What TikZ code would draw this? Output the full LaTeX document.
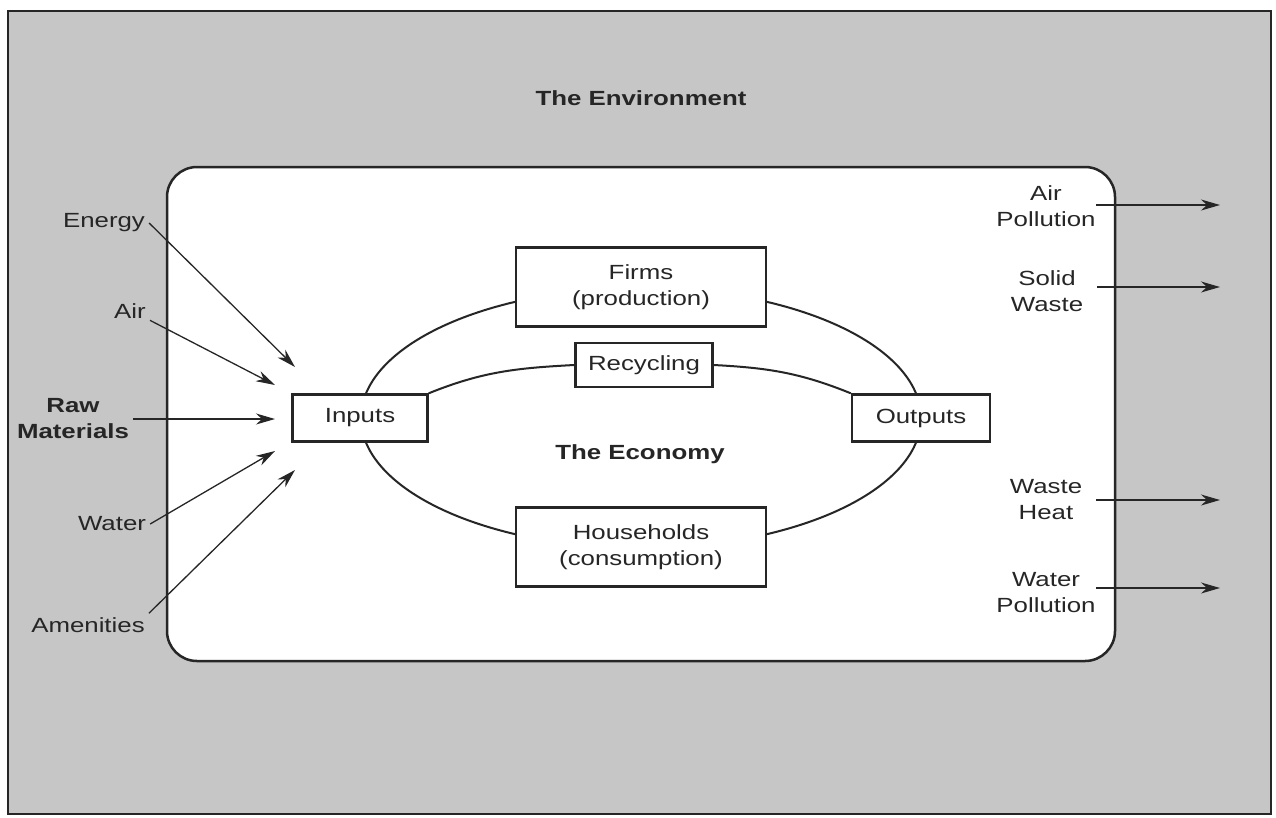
\documentclass[tikz,border=0pt]{standalone}
\usepackage{fontspec}
\setmainfont{Liberation Sans}[FakeStretch=1.26]
\usetikzlibrary{arrows.meta}

\definecolor{envgray}{RGB}{198,198,198}
\definecolor{ink}{RGB}{38,38,38}

\begin{document}
\begin{tikzpicture}[x=1pt, y=-1pt,
    every node/.style={font=\fontsize{20.5}{26}\selectfont, text=ink},
    heading/.style={font=\bfseries\fontsize{20.5}{26}\selectfont},
    lbl/.style={align=center, inner sep=4pt},
    outlbl/.style={align=center, inner sep=0pt, text width=100pt},
    box/.style={draw=ink, line width=2.4pt, fill=white, align=center, inner sep=0pt},
    flow/.style={draw=ink, line width=1.3pt, -{Stealth[length=19pt, width=11pt, inset=6pt]}}]
    \useasboundingbox (0,0) rectangle (1276,817);

    % Environment and economy.
    \draw [draw=ink, line width=2.5pt, fill=envgray] (8,11) rectangle (1271,814);
    \draw [draw=ink, line width=2.5pt, fill=white, rounded corners=30pt] (167,167) rectangle (1115,661);
    \node [heading] (env) at (641,98) {The Environment};

    % Circular flow.
    \draw [draw=ink, line width=2pt] (641,418) ellipse [x radius=280pt, y radius=130pt];

    \node [box, minimum width=250pt, minimum height=79pt] (firms) at (641,287) {Firms\\(production)};
    \node [box, minimum width=250pt, minimum height=79pt] (house) at (641,547) {Households\\(consumption)};
    \node [box, minimum width=137pt, minimum height=44pt] (recyc) at (644,365) {Recycling};
    \node [box, minimum width=135pt, minimum height=47pt] (inputs) at (360,418) {Inputs};
    \node [box, minimum width=138pt, minimum height=47pt] (outputs) at (921,418) {Outputs};
    \node [heading] (econ) at (640,454) {The Economy};

    % Recycling loop.
    \draw [draw=ink, line width=2pt] (inputs.north east) to[out=22, in=183] (recyc.west);
    \draw [draw=ink, line width=2pt] (recyc.east) to[out=-3, in=158] (outputs.north west);

    % Inputs from the environment.
    \node [lbl] (energy) at (104,223) {Energy};
    \node [lbl] (air) at (130,311) {Air};
    \node [lbl, heading] (raw) at (73,419) {Raw\\Materials};
    \node [lbl] (water) at (112,524) {Water};
    \node [lbl] (amen) at (88,625) {Amenities};

    \coordinate (energy-tip) at (295,367);
    \coordinate (air-tip) at (275,385);
    \coordinate (raw-tip) at (275,419);
    \coordinate (water-tip) at (275,451);
    \coordinate (amen-tip) at (295,470);

    \draw [flow] (energy.east) -- (energy-tip);
    \draw [flow] (air.-25) -- (air-tip);
    \draw [flow] (raw.east) -- (raw-tip);
    \draw [flow] (water.east) -- (water-tip);
    \draw [flow] (amen.north east) -- (amen-tip);

    % Outputs to the environment.
    \node [outlbl] (airp) at (1046,206) {Air\\Pollution};
    \node [outlbl] (solid) at (1047,291) {Solid\\Waste};
    \node [outlbl] (heat) at (1046,500) {Waste\\Heat};
    \node [outlbl] (waterp) at (1046,593) {Water\\Pollution};

    \coordinate (airp-end) at (1220,205);
    \coordinate (solid-end) at (1220,287);
    \coordinate (heat-end) at (1220,500);
    \coordinate (waterp-end) at (1220,588);

    \draw [flow] (airp.east |- airp-end) -- (airp-end);
    \draw [flow] (solid.east |- solid-end) -- (solid-end);
    \draw [flow] (heat.east |- heat-end) -- (heat-end);
    \draw [flow] (waterp.east |- waterp-end) -- (waterp-end);

\end{tikzpicture}
\end{document}
